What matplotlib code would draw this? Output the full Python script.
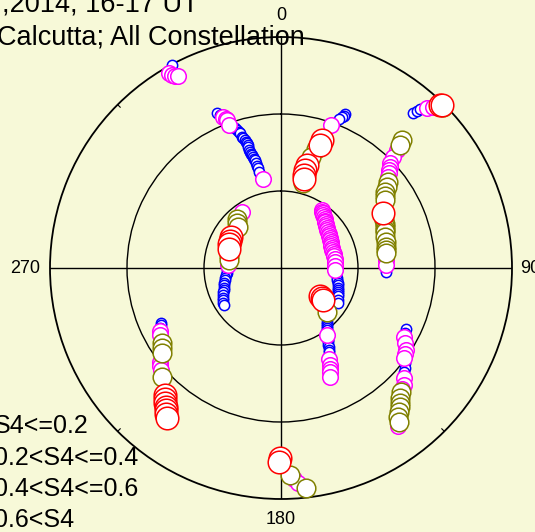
import numpy as np
import matplotlib
matplotlib.use("Agg")
import matplotlib.pyplot as plt

plt.rcParams["font.family"] = ["Liberation Sans", "DejaVu Sans"]

BG = "#F7F9D8"

# Satellite passes: azimuth (deg, clockwise from N), elevation (deg), S4 index
track_a_az = [331.8, 330.1, 330.5, 331.1, 331.8]
track_a_el = [0.4, 2.4, 3.6, 4.6, 5.1]
track_a_s4 = [0.15, 0.32, 0.33, 0.33, 0.34]

track_b_az = [337.6, 338.2, 339.0, 339.6, 340.0, 340.0, 340.6, 341.0, 341.7, 342.3, 342.7, 343.0,
              343.4, 343.8, 344.2, 344.5, 344.8, 344.8, 344.8, 344.8, 345.0, 345.3, 345.6,
              345.8, 346.0, 346.2, 346.6, 346.8, 347.0, 347.1, 348.6]
track_b_el = [24.7, 25.8, 27.0, 28.0, 28.6, 30.7, 30.9, 31.8, 32.7, 33.6, 34.4, 35.2,
              36.7, 37.4, 38.2, 38.9, 39.5, 40.3, 41.0, 42.4, 43.2, 44.0, 44.7,
              45.4, 46.1, 46.8, 48.0, 49.0, 50.0, 51.6, 54.6]
track_b_s4 = [0.12, 0.18, 0.25, 0.28, 0.30, 0.31, 0.19, 0.17, 0.16, 0.15, 0.15, 0.14,
              0.13, 0.13, 0.12, 0.12, 0.12, 0.11, 0.11, 0.11, 0.12, 0.12, 0.13,
              0.13, 0.14, 0.14, 0.15, 0.16, 0.17, 0.19, 0.24]

track_c_az = [22.6, 22.3, 22.0, 21.3, 19.3, 17.8, 17.6, 16.5, 15.1, 14.2, 13.8, 13.9, 14.5, 14.5]
track_c_el = [25.0, 25.8, 26.5, 27.7, 31.0, 37.6, 39.7, 41.5, 45.2, 48.6, 50.7, 52.7, 54.2, 55.8]
track_c_s4 = [0.11, 0.13, 0.16, 0.19, 0.33, 0.68, 0.70, 0.55, 0.58, 0.72, 0.75, 0.71, 0.66, 0.52]

track_d_az = [40.4, 40.9, 41.2, 42.4, 43.4, 45.2, 44.3, 44.6]
track_d_el = [10.7, 9.1, 7.7, 5.6, 3.7, 1.0, 1.5, 0.7]
track_d_s4 = [0.14, 0.16, 0.19, 0.30, 0.36, 0.52, 0.66, 0.74]

track_e_az = [43.4, 44.1, 44.5, 45.3, 46.1, 47.0, 47.8, 48.7, 49.6, 51.0, 52.6, 53.8, 55.2, 56.8,
              61.7, 65.0, 67.0, 68.5, 70.0, 71.0, 73.4, 76.0, 78.7, 80.3, 81.9, 85.6, 88.4, 92.2]
track_e_el = [21.4, 23.3, 25.5, 28.6, 31.0, 32.1, 33.2, 34.2, 35.3, 36.6, 38.0, 39.8, 40.7, 41.6,
              44.8, 45.6, 46.0, 46.4, 46.7, 47.0, 47.7, 48.0, 48.3, 48.5, 48.7, 49.0, 49.1, 49.1]
track_e_s4 = [0.48, 0.45, 0.38, 0.35, 0.33, 0.30, 0.32, 0.36, 0.39, 0.42, 0.44, 0.50, 0.53, 0.56,
              0.64, 0.57, 0.55, 0.52, 0.50, 0.49, 0.47, 0.46, 0.45, 0.44, 0.42, 0.35, 0.28, 0.18]

track_f_az = [325.1, 318.1, 315.6, 313.6, 301.8, 298.0, 294.8, 290.1, 283.0, 278.7, 273.2,
              267.9, 265.0, 262.7, 260.0, 257.9, 255.5, 253.4, 251.0, 248.9, 247.0,
              245.0, 243.0, 241.1, 239.0, 237.0]
track_f_el = [63.4, 64.3, 65.5, 66.9, 67.1, 67.4, 67.7, 68.4, 69.2, 69.5, 69.3,
              69.0, 68.7, 68.4, 68.0, 67.7, 67.2, 66.8, 66.5, 66.2, 65.6,
              65.1, 64.6, 64.2, 63.8, 63.5]
track_f_s4 = [0.36, 0.45, 0.50, 0.54, 0.66, 0.70, 0.72, 0.68, 0.55, 0.44, 0.27,
              0.18, 0.17, 0.16, 0.15, 0.15, 0.14, 0.14, 0.13, 0.13, 0.12,
              0.12, 0.12, 0.12, 0.11, 0.11]

track_g_az = [35.3, 36.4, 37.5, 38.8, 40.1, 41.5, 43.0, 44.3, 45.6, 47.3, 49.0, 50.7, 52.5,
              54.5, 56.5, 58.4, 60.3, 62.4, 64.5, 66.5, 68.6, 70.7, 72.8, 75.0, 77.2,
              80.4, 83.7, 88.0, 92.1, 96.0, 100.1, 102.4, 104.7, 107.0, 109.3, 111.0,
              112.8, 114.5, 116.2, 119.0, 121.6]
track_g_el = [62.3, 62.8, 63.2, 63.6, 64.0, 64.4, 64.8, 65.2, 65.5, 65.9, 66.2, 66.6, 66.9,
              67.2, 67.5, 67.8, 68.0, 68.2, 68.4, 68.6, 68.7, 68.8, 68.8, 68.8, 68.8,
              68.8, 68.8, 68.9, 69.0, 68.4, 67.8, 67.5, 67.2, 66.8, 66.5, 66.2,
              65.9, 65.6, 65.3, 64.6, 63.9]
track_g_s4 = [0.26, 0.27, 0.28, 0.29, 0.31, 0.32, 0.33, 0.34, 0.35, 0.36, 0.36, 0.35, 0.34,
              0.33, 0.32, 0.31, 0.30, 0.30, 0.31, 0.32, 0.33, 0.34, 0.34, 0.35, 0.35,
              0.34, 0.33, 0.30, 0.26, 0.19, 0.18, 0.17, 0.16, 0.16, 0.15, 0.15,
              0.14, 0.14, 0.13, 0.13, 0.12]

track_h_az = [125.7, 126.2, 127.3, 133.7, 139.6, 140.6, 141.5, 142.5, 143.4, 145.5,
              146.5, 147.0, 147.6, 148.3, 149.0, 149.7, 150.3, 152.0, 153.2, 154.0, 154.8, 155.8]
track_h_el = [71.3, 70.2, 69.4, 65.2, 62.4, 61.8, 61.2, 60.5, 59.9, 58.3,
              57.0, 56.4, 55.8, 54.9, 54.0, 53.2, 52.3, 50.0, 47.6, 46.4, 45.2, 43.4]
track_h_s4 = [0.70, 0.73, 0.67, 0.51, 0.17, 0.16, 0.15, 0.15, 0.16, 0.27,
              0.19, 0.16, 0.14, 0.13, 0.13, 0.15, 0.18, 0.24, 0.28, 0.31, 0.33, 0.35]

track_i_az = [245.4, 244.5, 243.6, 242.3, 241.0, 237.8, 236.2, 234.5, 232.2, 230.9, 229.6,
              227.5, 222.4, 221.5, 220.7, 219.8, 219.0, 218.1, 217.2]
track_i_el = [38.6, 38.0, 37.4, 36.8, 36.1, 35.2, 34.1, 33.0, 30.3, 29.4, 28.6,
              27.1, 23.0, 21.8, 20.6, 19.7, 18.8, 17.7, 16.6]
track_i_s4 = [0.14, 0.16, 0.18, 0.27, 0.29, 0.47, 0.49, 0.51, 0.37, 0.38, 0.39,
              0.55, 0.66, 0.68, 0.70, 0.74, 0.78, 0.80, 0.81]

track_j_az = [116.0, 117.5, 119.3, 121.3, 123.3, 124.8, 126.2, 127.6, 128.9, 130.0, 131.8, 133.6,
              134.8, 135.9, 137.5, 138.5, 139.4, 140.7, 141.9, 142.5, 143.5]
track_j_el = [35.8, 35.5, 35.1, 33.4, 31.8, 31.2, 30.6, 29.2, 27.9, 27.2, 25.7, 23.8,
              23.3, 22.8, 21.3, 20.0, 18.7, 17.5, 16.2, 14.4, 13.4]
track_j_s4 = [0.13, 0.17, 0.26, 0.29, 0.31, 0.30, 0.28, 0.19, 0.18, 0.19, 0.29, 0.36,
              0.39, 0.44, 0.48, 0.50, 0.52, 0.54, 0.55, 0.50, 0.38]

track_k_az = [180.3, 180.6, 177.5, 176.5, 175.5, 173.5]
track_k_el = [16.0, 14.4, 9.3, 7.6, 6.0, 3.7]
track_k_s4 = [0.69, 0.72, 0.48, 0.36, 0.33, 0.46]

s4_labels = ["S4<=0.2", "0.2<S4<=0.4", "0.4<S4<=0.6", "0.6<S4"]
s4_edges = [0.2, 0.4, 0.6]
class_colors = ["#0000FF", "#FF00FF", "#808000", "#FF0000"]
class_sizes = [55, 125, 180, 265]

az = np.concatenate([track_a_az, track_b_az, track_c_az, track_d_az, track_e_az, track_f_az,
                     track_g_az, track_h_az, track_i_az, track_j_az, track_k_az])
el = np.concatenate([track_a_el, track_b_el, track_c_el, track_d_el, track_e_el, track_f_el,
                     track_g_el, track_h_el, track_i_el, track_j_el, track_k_el])
s4 = np.concatenate([track_a_s4, track_b_s4, track_c_s4, track_d_s4, track_e_s4, track_f_s4,
                     track_g_s4, track_h_s4, track_i_s4, track_j_s4, track_k_s4])
cls = np.digitize(s4, s4_edges, right=True)

W, H = 535, 532
fig = plt.figure(figsize=(W / 100, H / 100), dpi=100, facecolor=BG)

cx, cy, R = 281, 268, 231
ax = fig.add_axes([(cx - R) / W, (H - cy - R) / H, 2 * R / W, 2 * R / H], projection="polar")
ax.set_facecolor(BG)
ax.set_theta_zero_location("N")
ax.set_theta_direction(-1)
ax.set_ylim(0, 90)
ax.set_rgrids([30, 60], labels=[])
ax.set_thetagrids([0, 90, 180, 270], labels=[])
ax.grid(True, color="black", linewidth=1.0, linestyle="-")
ax.spines["polar"].set_color("black")
ax.spines["polar"].set_linewidth(1.3)
ax.tick_params(axis="both", length=0)

# short minor ticks on the horizon circle
for t in [45, 135, 225, 315]:
    ax.plot([np.radians(t)] * 2, [88.6, 90], color="black", linewidth=0.8)

for k in range(4):
    m = cls == k
    ax.scatter(np.radians(az[m]), 90 - el[m], s=class_sizes[k], facecolors="white",
               edgecolors=class_colors[k], linewidths=1.1, clip_on=False, zorder=3 + k)

# azimuth labels
fig.text(281 / W, (H - 20) / H, "0", ha="center", va="baseline", fontsize=13)
fig.text(520 / W, (H - 273) / H, "90", ha="left", va="baseline", fontsize=13)
fig.text(281 / W, (H - 524) / H, "180", ha="center", va="baseline", fontsize=13)
fig.text(40 / W, (H - 273) / H, "270", ha="right", va="baseline", fontsize=13)

# title
fig.text(2 / W, (H - 11.7) / H, ",2014, 16-17 UT", ha="left", va="baseline", fontsize=19.5)
fig.text(-3 / W, (H - 44.5) / H, "Calcutta; All Constellation", ha="left", va="baseline",
         fontsize=19.5)

# S4 class key
for lab, yb in zip(s4_labels, [433, 465, 495.7, 527]):
    fig.text(-6 / W, (H - yb) / H, lab, ha="left", va="baseline", fontsize=18)

fig.savefig("out.png", dpi=100, facecolor=BG)
